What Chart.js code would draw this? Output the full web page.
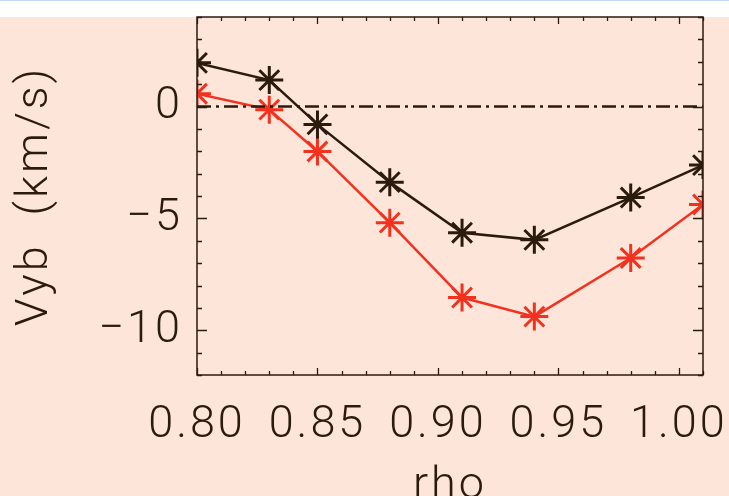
<!DOCTYPE html>
<html>
<head>
<meta charset="utf-8">
<script src="https://cdn.jsdelivr.net/npm/chart.js@4/dist/chart.umd.min.js"></script>
<style>
  html, body { margin: 0; padding: 0; }
  body {
    width: 729px; height: 496px; overflow: hidden;
    background: linear-gradient(#c6d6f6 0 1px, #ffffff 1px 17px, #fde6d9 17px);
  }
  canvas { display: block; }
</style>
</head>
<body>
<canvas id="chart" width="729" height="496"></canvas>
<script>
// --- DATI ---
const rho = [0.80, 0.83, 0.85, 0.88, 0.91, 0.94, 0.98, 1.01];
const vybBlack = [1.95, 1.18, -0.80, -3.38, -5.64, -5.96, -4.07, -2.62];
const vybRed = [0.57, -0.14, -2.01, -5.19, -8.54, -9.39, -6.77, -4.38];
const xTicks = [0.80, 0.85, 0.90, 0.95, 1.00];
const yTicks = [-10, -5, 0];

const inkColor = '#2b1a0e';
const redColor = '#f2321f';
const fontFamily = 'Roboto, "Liberation Sans", sans-serif';

function toPoints(xs, ys) {
    return xs.map((x, i) => ({ x: x, y: ys[i] }));
}

// niente padding extra per le etichette che sporgono
function noPadding(s) {
    s.paddingTop = 0; s.paddingBottom = 0;
    s.paddingLeft = 0; s.paddingRight = 0;
}

// testo un po' più spaziato, come nel font originale
const spacingPlugin = {
    id: 'spacing',
    beforeDraw(chart) { chart.ctx.letterSpacing = '3px'; }
};

// cornice + tacche verso l'interno su tutti e quattro i lati
const framePlugin = {
    id: 'frame',
    afterDatasetsDraw(chart) {
        const { ctx, chartArea: a, scales: { x, y } } = chart;
        ctx.save();
        ctx.strokeStyle = inkColor;
        ctx.lineWidth = 1.5;
        ctx.strokeRect(a.left, a.top, a.right - a.left, a.bottom - a.top);
        ctx.lineWidth = 1.3;
        ctx.beginPath();
        for (let i = 0; i <= 21; i++) {
            const v = 0.80 + i * 0.01;
            const px = Math.round(x.getPixelForValue(v)) + 0.5;
            const len = (i % 5 === 0) ? 7 : 4;
            ctx.moveTo(px, a.bottom); ctx.lineTo(px, a.bottom - len);
            ctx.moveTo(px, a.top); ctx.lineTo(px, a.top + len);
        }
        for (let v = -12; v <= 4; v++) {
            const py = Math.round(y.getPixelForValue(v)) + 0.5;
            const len = (v % 5 === 0) ? 10 : 5;
            ctx.moveTo(a.left, py); ctx.lineTo(a.left + len, py);
            ctx.moveTo(a.right, py); ctx.lineTo(a.right - len, py);
        }
        ctx.stroke();
        ctx.restore();
    }
};

const seriesStyle = (color) => ({
    borderColor: color,
    backgroundColor: color,
    borderWidth: 2.5,
    pointStyle: 'star',
    pointRadius: 14,
    pointBorderWidth: 3,
    pointBorderColor: color,
    tension: 0
});

new Chart(document.getElementById('chart'), {
    type: 'line',
    data: {
        datasets: [
            {
                label: 'zero',
                data: toPoints([0.80, 1.01], [0, 0]),
                borderColor: inkColor,
                borderWidth: 2.6,
                borderDash: [14, 5, 3, 5],
                pointRadius: 0
            },
            Object.assign({ label: 'black', data: toPoints(rho, vybBlack) }, seriesStyle(inkColor)),
            Object.assign({ label: 'red', data: toPoints(rho, vybRed) }, seriesStyle(redColor))
        ]
    },
    options: {
        responsive: false,
        animation: false,
        layout: { padding: { top: 13, right: 26, left: 0, bottom: 0 } },
        plugins: { legend: { display: false }, tooltip: { enabled: false } },
        scales: {
            x: {
                type: 'linear',
                min: 0.80,
                max: 1.01,
                grid: { display: false, drawTicks: false },
                border: { display: false },
                afterBuildTicks: (s) => { s.ticks = xTicks.map(v => ({ value: v })); },
                afterFit: (s) => { s.height = 121; noPadding(s); },
                ticks: {
                    color: inkColor,
                    padding: 24,
                    maxRotation: 0,
                    autoSkip: false,
                    font: { family: fontFamily, size: 45, weight: 300 },
                    callback: (v) => Number(v).toFixed(2)
                },
                title: {
                    display: true,
                    text: 'rho',
                    color: inkColor,
                    font: { family: fontFamily, size: 45, weight: 300, lineHeight: 1 },
                    padding: { top: 0, bottom: -13 }
                }
            },
            y: {
                min: -12,
                max: 4,
                grid: { display: false, drawTicks: false },
                border: { display: false },
                afterBuildTicks: (s) => { s.ticks = yTicks.map(v => ({ value: v })); },
                afterFit: (s) => { s.width = 197; noPadding(s); },
                ticks: {
                    color: inkColor,
                    padding: 14,
                    autoSkip: false,
                    font: { family: fontFamily, size: 45, weight: 300 },
                    callback: (v) => v < 0 ? '\u2212' + Math.abs(v) : String(v)
                },
                title: {
                    display: true,
                    text: 'Vyb  (km/s)',
                    color: inkColor,
                    font: { family: fontFamily, size: 45, weight: 300, lineHeight: 1.2 },
                    padding: { top: 9, bottom: 0 }
                }
            }
        }
    },
    plugins: [spacingPlugin, framePlugin]
});
</script>
</body>
</html>
